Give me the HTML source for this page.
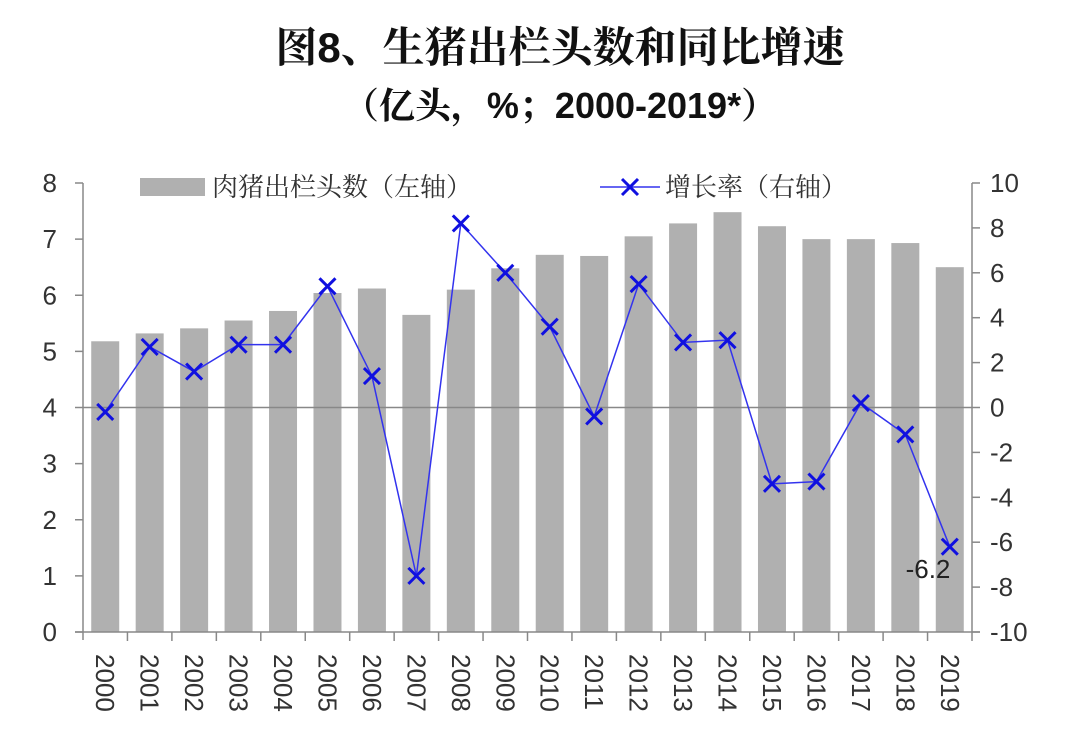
<!DOCTYPE html>
<html><head><meta charset="utf-8"><style>
body{margin:0;background:#fff;}
svg{display:block;font-family:"Liberation Sans","Noto Sans CJK SC",sans-serif;}
.serif{font-family:"Liberation Sans","Noto Serif CJK SC",serif;}
</style></head><body>
<svg width="1080" height="753" viewBox="0 0 1080 753" xmlns="http://www.w3.org/2000/svg">
<text class="serif" x="560" y="62" text-anchor="middle" font-size="42" font-weight="bold" fill="#111">图8、生猪出栏头数和同比增速</text>
<text class="serif" x="560" y="118" text-anchor="middle" font-size="36" font-weight="bold" fill="#111">（亿头，%；2000-2019*）</text>
<g id="bars" fill="#b0b0b0"></g>
<line x1="83" y1="407.5" x2="972" y2="407.5" stroke="#888" stroke-width="1.5"/>
<g stroke="#888" stroke-width="1.5" fill="none">
<line x1="83" y1="183" x2="83" y2="640"/>
<line x1="972" y1="183" x2="972" y2="632"/>
<line x1="75" y1="632" x2="980" y2="632"/>
</g>
<g id="ticks" stroke="#888" stroke-width="1.5"></g>
<g id="lbl" font-size="26" fill="#333"></g>
<polyline id="line" fill="none" stroke="#3333ee" stroke-width="1.5"/>
<g id="marks" stroke="#1010e0" stroke-width="3"></g>
<text x="928" y="578" text-anchor="middle" font-size="26" fill="#222">-6.2</text>
<rect x="140" y="178" width="65" height="18" fill="#b0b0b0"/>
<text class="serif" x="212" y="196" font-size="26" fill="#333">肉猪出栏头数（左轴）</text>
<line x1="600" y1="187" x2="660" y2="187" stroke="#3333ee" stroke-width="1.5"/>
<g stroke="#1010e0" stroke-width="3"><line x1="622" y1="179" x2="638" y2="195"/><line x1="638" y1="179" x2="622" y2="195"/></g>
<text class="serif" x="665" y="196" font-size="26" fill="#333">增长率（右轴）</text>
</svg>
<script>
const bars=[5.18,5.32,5.41,5.55,5.72,6.04,6.12,5.65,6.1,6.48,6.72,6.7,7.05,7.28,7.48,7.23,7.0,7.0,6.93,6.5];
const g=[-0.2,2.7,1.6,2.8,2.8,5.4,1.4,-7.5,8.2,6.0,3.6,-0.4,5.5,2.9,3.0,-3.4,-3.3,0.2,-1.2,-6.2];
const ns="http://www.w3.org/2000/svg";
function el(p,t,a,txt){const e=document.createElementNS(ns,t);for(const k in a)e.setAttribute(k,a[k]);if(txt!==undefined)e.textContent=txt;document.getElementById(p).appendChild(e);return e;}
const L=83,R=972,T=183,B=632,cw=(R-L)/20;
const yl=v=>B-v*(B-T)/8, yr=v=>407.5-v*(B-T)/20;
let pts=[];
bars.forEach((v,i)=>{const cx=L+cw*(i+0.5);el("bars","rect",{x:cx-14,y:yl(v),width:28,height:B-yl(v)});
const y=yr(g[i]);pts.push(cx+","+y);
el("marks","line",{x1:cx-8,y1:y-8,x2:cx+8,y2:y+8});el("marks","line",{x1:cx+8,y1:y-8,x2:cx-8,y2:y+8});
el("lbl","text",{transform:`translate(${cx-9},654) rotate(90)`},String(2000+i));
el("ticks","line",{x1:L+cw*(i+1),y1:B,x2:L+cw*(i+1),y2:B+9});});
document.getElementById("line").setAttribute("points",pts.join(" "));
for(let v=0;v<=8;v++){const y=yl(v);el("ticks","line",{x1:75,y1:y,x2:83,y2:y});el("lbl","text",{x:57,y:y+9,"text-anchor":"end"},String(v));}
for(let v=-10;v<=10;v+=2){const y=yr(v);el("ticks","line",{x1:972,y1:y,x2:980,y2:y});el("lbl","text",{x:990,y:y+9},String(v));}
</script>
</body></html>
